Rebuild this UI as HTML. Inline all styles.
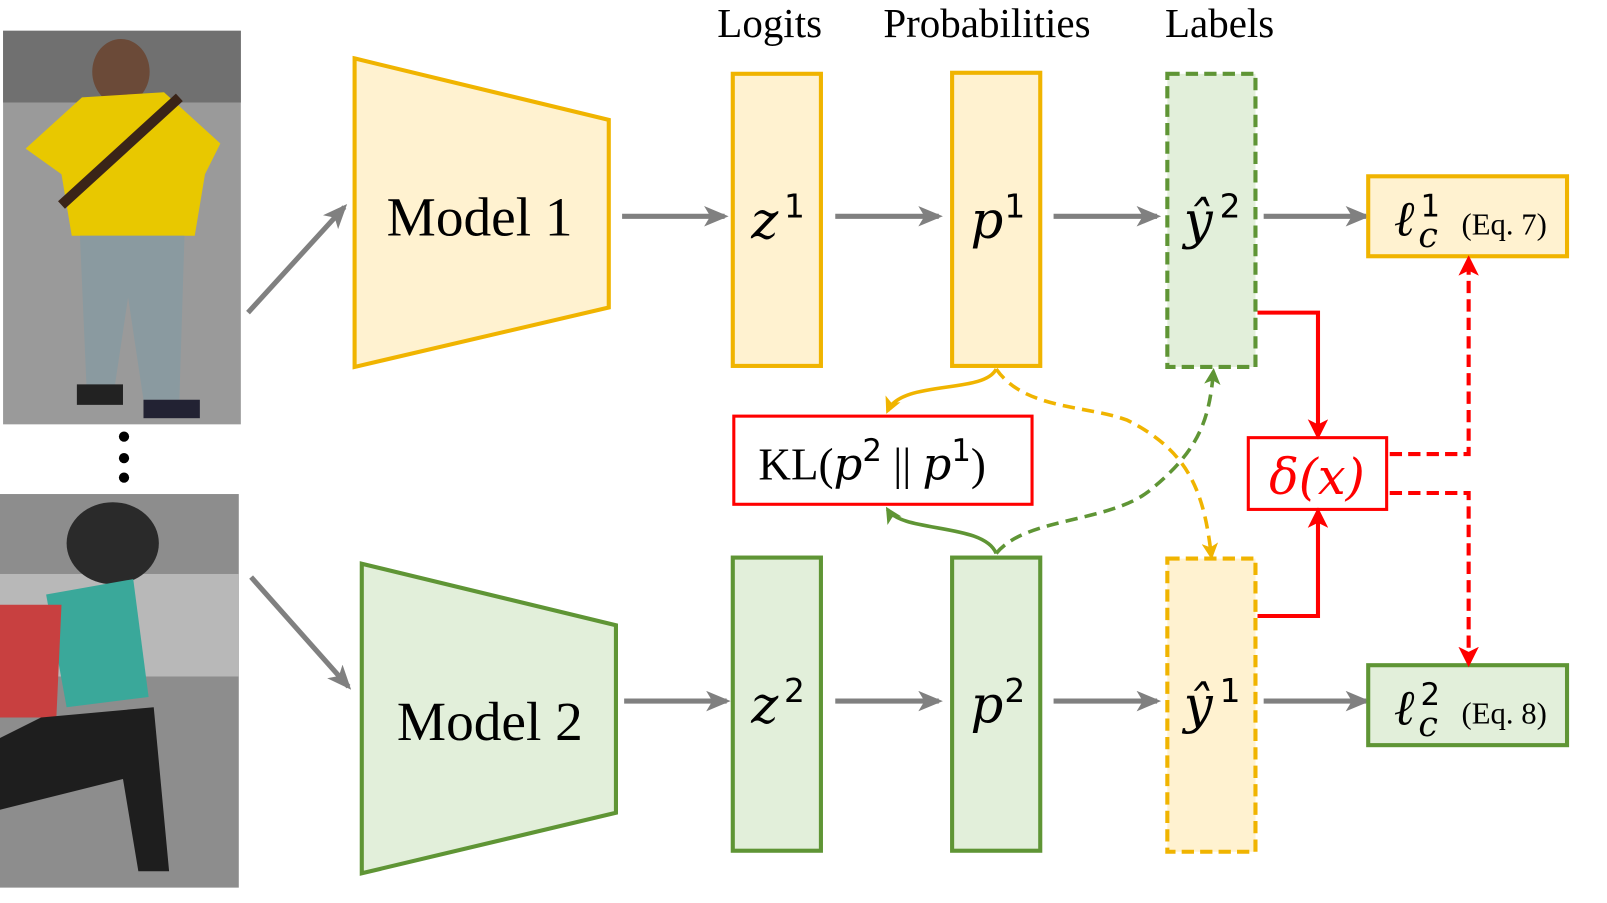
<!DOCTYPE html>
<html><head><meta charset="utf-8"><style>html,body{margin:0;padding:0;background:#fff}svg{display:block}</style></head>
<body>
<svg width="1607" height="903" viewBox="0 0 1568 881" preserveAspectRatio="none" xmlns="http://www.w3.org/2000/svg" font-family="Liberation Serif, serif">
<defs>
<marker id="ag" markerWidth="24" markerHeight="20" refX="20" refY="10" orient="auto" markerUnits="userSpaceOnUse"><path d="M0,0 L24,10 L0,20 L6,10z" fill="#808080"/></marker>
<marker id="ar" markerWidth="20" markerHeight="20" refX="16" refY="10" orient="auto" markerUnits="userSpaceOnUse"><path d="M0,0 L20,10 L0,20 L5,10z" fill="#f00"/></marker>
<marker id="ay" markerWidth="16" markerHeight="16" refX="13" refY="8" orient="auto" markerUnits="userSpaceOnUse"><path d="M0,0 L16,8 L0,16 L4,8z" fill="#f0b400"/></marker>
<marker id="agr" markerWidth="16" markerHeight="16" refX="13" refY="8" orient="auto" markerUnits="userSpaceOnUse"><path d="M0,0 L16,8 L0,16 L4,8z" fill="#5f9535"/></marker>
</defs>
<!-- photos -->
<rect x="3" y="30" width="232" height="384" fill="#9a9a9a"/>
<rect x="3" y="30" width="232" height="70" fill="#707070"/>
<ellipse cx="118" cy="70" rx="28" ry="32" fill="#6b4a38"/>
<path d="M25,145 L80,95 L160,90 L215,140 L200,170 L190,230 L70,230 L60,170z" fill="#e8c800"/>
<path d="M60,200 L175,95" stroke="#3a2418" stroke-width="10"/>
<path d="M78,230 L180,230 L175,390 L140,390 L125,290 L110,390 L85,390z" fill="#8a9aa0"/>
<rect x="75" y="375" width="45" height="20" fill="#222"/><rect x="140" y="390" width="55" height="18" fill="#223"/>
<rect x="0" y="482" width="233" height="384" fill="#8d8d8d"/>
<rect x="0" y="560" width="233" height="100" fill="#b8b8b8"/>
<ellipse cx="110" cy="530" rx="45" ry="40" fill="#2a2a2a"/>
<path d="M45,580 L130,565 L145,680 L65,690z" fill="#3aa89a"/>
<path d="M0,590 L60,590 L55,700 L0,700z" fill="#c84040"/>
<path d="M40,700 L150,690 L165,850 L135,850 L120,760 L0,790 L0,720z" fill="#1e1e1e"/>
<circle cx="121" cy="426" r="5"/><circle cx="121" cy="447" r="5"/><circle cx="121" cy="466" r="5"/>
<!-- arrows from photos -->
<line x1="242" y1="305" x2="336" y2="202" stroke="#808080" stroke-width="5" marker-end="url(#ag)"/>
<line x1="245" y1="563" x2="340" y2="670" stroke="#808080" stroke-width="5" marker-end="url(#ag)"/>
<!-- models -->
<path d="M346,57 L594,117 L594,300 L346,358z" fill="#fff2d0" stroke="#f0b400" stroke-width="4"/>
<text x="468" y="230" font-size="54" text-anchor="middle">Model 1</text>
<path d="M353,550 L601,610 L601,793 L353,852z" fill="#e2efda" stroke="#5f9535" stroke-width="4"/>
<text x="478" y="722" font-size="54" text-anchor="middle">Model 2</text>
<!-- headers -->
<text x="751" y="36" font-size="40" text-anchor="middle">Logits</text>
<text x="963" y="36" font-size="40" text-anchor="middle">Probabilities</text>
<text x="1190" y="36" font-size="40" text-anchor="middle">Labels</text>
<!-- boxes -->
<rect x="715" y="72" width="86" height="285" fill="#fff2d0" stroke="#f0b400" stroke-width="4"/>
<rect x="929" y="71" width="86" height="286" fill="#fff2d0" stroke="#f0b400" stroke-width="4"/>
<rect x="1139" y="72" width="86" height="286" fill="#e2efda" stroke="#5f9535" stroke-width="4" stroke-dasharray="12,6"/>
<rect x="715" y="544" width="86" height="286" fill="#e2efda" stroke="#5f9535" stroke-width="4"/>
<rect x="929" y="544" width="86" height="286" fill="#e2efda" stroke="#5f9535" stroke-width="4"/>
<rect x="1139" y="545" width="86" height="286" fill="#fff2d0" stroke="#f0b400" stroke-width="4" stroke-dasharray="12,6"/>
<g font-style="italic" font-size="50" font-family="DejaVu Serif, serif">
<text x="733" y="232">z</text><text x="947" y="232">p</text><text x="1155" y="232">ŷ</text>
<text x="733" y="705">z</text><text x="947" y="705">p</text><text x="1155" y="705">ŷ</text>
</g>
<g font-size="32" font-family="DejaVu Sans, sans-serif">
<text x="765" y="212">1</text><text x="980" y="212">1</text><text x="1190" y="212">2</text>
<text x="765" y="685">2</text><text x="980" y="685">2</text><text x="1190" y="685">1</text>
</g>
<!-- gray arrows -->
<g stroke="#808080" stroke-width="5">
<line x1="607" y1="211" x2="707" y2="211" marker-end="url(#ag)"/>
<line x1="815" y1="211" x2="916" y2="211" marker-end="url(#ag)"/>
<line x1="1028" y1="211" x2="1129" y2="211" marker-end="url(#ag)"/>
<line x1="1233" y1="211" x2="1333" y2="211" marker-end="url(#ag)"/>
<line x1="609" y1="684" x2="709" y2="684" marker-end="url(#ag)"/>
<line x1="815" y1="684" x2="916" y2="684" marker-end="url(#ag)"/>
<line x1="1028" y1="684" x2="1129" y2="684" marker-end="url(#ag)"/>
<line x1="1233" y1="684" x2="1333" y2="684" marker-end="url(#ag)"/>
</g>
<!-- loss boxes -->
<rect x="1335" y="172" width="194" height="78" fill="#fff2d0" stroke="#f0b400" stroke-width="4"/>
<text x="1360" y="230" font-size="48" font-style="italic" font-family="DejaVu Serif, serif">ℓ</text>
<text x="1386" y="211" font-size="30" font-family="DejaVu Sans, sans-serif">1</text>
<text x="1384" y="241" font-size="34" font-style="italic" font-family="DejaVu Serif, serif">c</text>
<text x="1426" y="229" font-size="30">(Eq. 7)</text>
<rect x="1335" y="649" width="194" height="78" fill="#e2efda" stroke="#5f9535" stroke-width="4"/>
<text x="1360" y="707" font-size="48" font-style="italic" font-family="DejaVu Serif, serif">ℓ</text>
<text x="1386" y="688" font-size="30" font-family="DejaVu Sans, sans-serif">2</text>
<text x="1384" y="718" font-size="34" font-style="italic" font-family="DejaVu Serif, serif">c</text>
<text x="1426" y="706" font-size="30">(Eq. 8)</text>
<!-- KL -->
<rect x="716" y="406" width="291" height="86" fill="#fff" stroke="#f00" stroke-width="3"/>
<text x="740" y="468" font-size="44">KL(<tspan font-style="italic" font-family="DejaVu Serif, serif">p</tspan><tspan font-size="30" dy="-18" font-family="DejaVu Sans, sans-serif">2</tspan><tspan dy="18"> || </tspan><tspan font-style="italic" font-family="DejaVu Serif, serif">p</tspan><tspan font-size="30" dy="-18" font-family="DejaVu Sans, sans-serif">1</tspan><tspan dy="18">)</tspan></text>
<!-- delta -->
<rect x="1218" y="427" width="135" height="70" fill="#fff" stroke="#f00" stroke-width="3"/>
<text x="1285" y="482" font-size="48" fill="#f00" text-anchor="middle" font-style="italic" font-family="DejaVu Serif, serif">δ(x)</text>
<!-- red connectors -->
<path d="M1227,305 L1286,305 L1286,425" fill="none" stroke="#f00" stroke-width="4" marker-end="url(#ar)"/>
<path d="M1227,601 L1286,601 L1286,499" fill="none" stroke="#f00" stroke-width="4" marker-end="url(#ar)"/>
<path d="M1356,443 L1433,443 L1433,253" fill="none" stroke="#f00" stroke-width="4" stroke-dasharray="12,6" marker-end="url(#ar)"/>
<path d="M1356,481 L1433,481 L1433,647" fill="none" stroke="#f00" stroke-width="4" stroke-dasharray="12,6" marker-end="url(#ar)"/>
<!-- curves -->
<path d="M972,360 C960,385 880,370 866,401" fill="none" stroke="#f0b400" stroke-width="3.5" marker-end="url(#ay)"/>
<path d="M972,360 C1000,400 1060,395 1100,410 C1160,440 1175,480 1182,543" fill="none" stroke="#f0b400" stroke-width="3.5" stroke-dasharray="12,7" marker-end="url(#ay)"/>
<path d="M972,540 C960,510 880,520 866,497" fill="none" stroke="#5f9535" stroke-width="3.5" marker-end="url(#agr)"/>
<path d="M972,540 C1000,505 1080,510 1120,480 C1170,440 1180,410 1184,362" fill="none" stroke="#5f9535" stroke-width="3.5" stroke-dasharray="12,7" marker-end="url(#agr)"/>
</svg>
</body></html>
